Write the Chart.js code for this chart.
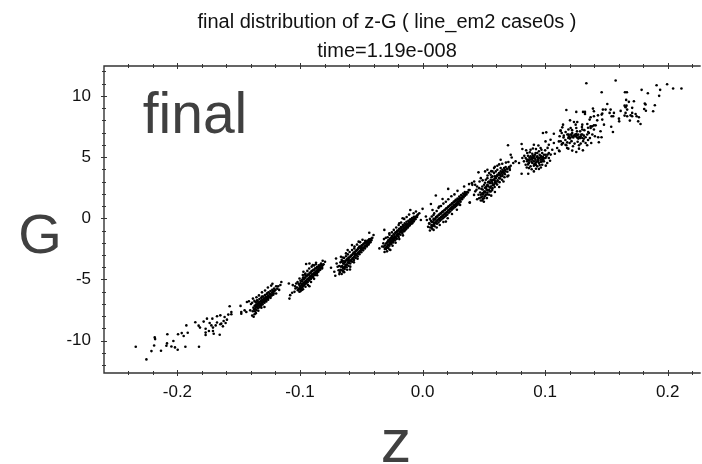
<!DOCTYPE html>
<html>
<head>
<meta charset="utf-8">
<title>final distribution of z-G</title>
<script src="https://cdn.jsdelivr.net/npm/chart.js@4/dist/chart.umd.min.js"></script>
<style>
html, body { margin: 0; padding: 0; background: #fff; }
#wrap { width: 702px; height: 464px; }
</style>
</head>
<body>
<div id="wrap"><canvas id="my-chart" width="702" height="464"></canvas></div>
<script>
const titleLines = ["final distribution of z-G ( line_em2 case0s )", "time=1.19e-008"];
const xTickLabels = [-0.2, -0.1, 0.0, 0.1, 0.2];
const yTickLabels = [-10, -5, 0, 5, 10];

// values, one list per bunch, [z, G]
const tailPoints = [
    [-.2340,-10.49],[-.2253,-11.53],[-.2212,-10.85],[-.2190,-10.39],[-.2185,-9.73],[-.2182,-9.87],[-.2134,-10.82],
    [-.2090,-10.41],[-.2085,-10.22],[-.2082,-9.48],[-.2049,-10.47],[-.2033,-10.03],[-.2020,-10.55],[-.1998,-10.74],
    [-.1995,-9.48],[-.1965,-9.38],[-.1949,-9.62],[-.1935,-10.49],[-.1927,-8.75],[-.1916,-9.35],[-.1824,-10.49],
    [-.1854,-8.50],[-.1827,-8.77],[-.1816,-8.93],[-.1786,-8.44],[-.1770,-9.02],[-.1770,-9.34],[-.1770,-9.54],
    [-.1759,-8.20],[-.1743,-9.21],[-.1737,-8.56],[-.1723,-8.75],[-.1715,-8.20],[-.1710,-8.93],[-.1710,-9.21],
    [-.1704,-9.43],[-.1688,-8.75],[-.1677,-8.52],[-.1677,-8.01],[-.1655,-9.51],[-.1650,-8.66],[-.1650,-7.93],
    [-.1642,-8.61],[-.1629,-8.83],[-.1623,-8.39],[-.1615,-8.07],[-.1607,-8.56],[-.1596,-8.28],[-.1585,-7.87],
    [-.1574,-7.19],[-.1560,-7.84],[-.1560,-7.66],[-.1485,-7.16],[-.1479,-7.66],[-.1479,-7.79],[-.1452,-7.52],
    [-.1438,-7.66],[-.1433,-6.84],[-.1417,-6.78],[-.1406,-7.52],[-.1384,-6.56],[-.1371,-7.84]
];
const clusterA = [
    [-.1385,-7.6],[-.1380,-7.3],[-.1375,-7.45],[-.1370,-7.15],[-.1368,-7.6],[-.1362,-7.3],[-.1358,-7.05],[-.1355,-7.5],
    [-.1350,-7.2],[-.1345,-6.95],[-.1342,-7.35],[-.1338,-7.1],[-.1332,-6.85],[-.1330,-7.25],[-.1325,-7.0],[-.1320,-6.75],
    [-.1318,-7.15],[-.1312,-6.9],[-.1308,-6.65],[-.1305,-7.05],[-.1300,-6.8],[-.1295,-6.55],[-.1290,-6.9],[-.1285,-6.7],
    [-.1280,-6.45],[-.1275,-6.8],[-.1270,-6.55],[-.1262,-6.35],[-.1260,-6.65],[-.1252,-6.45],[-.1245,-6.2],[-.1240,-6.5],
    [-.1232,-6.3],[-.1225,-6.05],[-.1218,-6.25],[-.1210,-5.95],[-.1200,-5.85],[-.1195,-6.15],[-.1185,-5.75],[-.1178,-5.55],
    [-.1170,-5.85],[-.1160,-5.45],[-.1152,-5.2],[-.1195,-5.55],[-.1265,-6.1],[-.1310,-6.4],[-.1350,-6.7],[-.1290,-7.25],
    [-.1365,-7.4],[-.1363,-7.15],[-.1361,-6.85],[-.1350,-7.25],[-.1348,-7.03],[-.1346,-6.75],[-.1335,-7.15],[-.1333,-6.92],
    [-.1331,-6.6],[-.1320,-7.02],[-.1318,-6.8],[-.1316,-6.5],[-.1305,-6.9],[-.1303,-6.68],[-.1301,-6.4],[-.1290,-6.78],
    [-.1288,-6.56],[-.1286,-6.28],[-.1275,-6.65],[-.1273,-6.44],[-.1271,-6.18],[-.1260,-6.52],[-.1258,-6.32],[-.1256,-6.05],
    [-.1245,-6.4],[-.1243,-6.2],[-.1241,-5.95],[-.1230,-6.28],[-.1228,-6.08],[-.1226,-5.85],[-.1215,-6.15],[-.1213,-5.97],[-.1211,-5.75],
    [-.1400,-7.0],[-.1390,-6.9],[-.1372,-6.75],[-.1355,-6.45],[-.1335,-6.3],[-.1310,-6.05],[-.1285,-5.9],[-.1262,-5.65],
    [-.1235,-5.5],[-.1225,-5.35],[-.1390,-7.95],[-.1378,-8.05],[-.1360,-7.75],[-.1340,-7.55],[-.1315,-7.3]
];
const clusterB = [
    [-.1091,-5.33],[-.1086,-6.56],[-.1080,-6.28],[-.1064,-6.09],[-.1045,-6.01],[-.1059,-5.46],[-.1037,-5.74],[-.1031,-5.33],
    [-.1018,-5.87],[-.1004,-4.92],[-.0972,-4.37],[-.0950,-3.74],[-.0923,-3.69],[-.0977,-4.64],[-.0956,-4.51],[-.0896,-3.83],
    [-.0869,-3.63],[-.0815,-3.47],[-.0796,-3.55],[-.0842,-3.96],[-.0828,-3.69],[-.0923,-5.55],
    [-.1010,-5.75],[-.1005,-5.45],[-.1000,-5.6],[-.0995,-5.3],[-.0992,-5.7],[-.0985,-5.45],[-.0982,-5.15],[-.0978,-5.6],
    [-.0972,-5.3],[-.0968,-5.0],[-.0965,-5.45],[-.0958,-5.2],[-.0955,-4.85],[-.0950,-5.3],[-.0945,-5.05],[-.0942,-4.7],
    [-.0938,-5.2],[-.0932,-4.9],[-.0928,-4.6],[-.0925,-5.05],[-.0918,-4.75],[-.0912,-4.45],[-.0910,-4.9],[-.0905,-4.6],
    [-.0898,-4.3],[-.0895,-4.75],[-.0888,-4.5],[-.0882,-4.2],[-.0878,-4.6],[-.0872,-4.35],[-.0865,-4.1],[-.0860,-4.45],
    [-.0855,-4.2],[-.0848,-3.95],[-.0842,-4.25],[-.0835,-4.05],[-.0828,-3.85],[-.0820,-4.1],[-.0812,-3.8],
    [-.1000,-5.8],[-.0998,-5.55],[-.0996,-5.1],[-.0985,-5.65],[-.0983,-5.4],[-.0981,-5.0],[-.0970,-5.5],[-.0968,-5.27],
    [-.0966,-4.85],[-.0955,-5.35],[-.0953,-5.12],[-.0951,-4.7],[-.0940,-5.22],[-.0938,-4.98],[-.0936,-4.6],[-.0925,-5.08],
    [-.0923,-4.85],[-.0921,-4.45],[-.0910,-4.95],[-.0908,-4.72],[-.0906,-4.32],[-.0895,-4.82],[-.0893,-4.58],[-.0891,-4.2],
    [-.0880,-4.66],[-.0878,-4.44],[-.0876,-4.08],[-.0865,-4.5],[-.0863,-4.3],[-.0861,-3.98],[-.0850,-4.36],[-.0848,-4.15],
    [-.0846,-3.85],[-.0835,-4.2],[-.0833,-4.02],[-.0831,-3.78],[-.0820,-4.02],[-.0818,-3.88],[-.0808,-3.75],
    [-.1040,-5.55],[-.1025,-5.65],[-.1020,-5.2],[-.1012,-5.35],[-.1005,-6.0],[-.0995,-5.95],[-.0985,-5.85],[-.0975,-4.85],
    [-.0960,-4.6],[-.0940,-4.3],[-.0925,-4.1],[-.0905,-3.95],[-.0885,-3.85],[-.0870,-3.75],[-.0975,-5.8],[-.0955,-5.6],
    [-.0935,-5.45],[-.0910,-5.2],[-.0885,-4.95],[-.0860,-4.65]
];
const clusterC = [
    [-.0747,-4.04],[-.0712,-4.70],[-.0706,-3.28],[-.0701,-3.69],[-.0685,-4.24],[-.0679,-4.56],[-.0666,-3.14],[-.0658,-3.55],
    [-.0647,-4.37],[-.0611,-2.60],[-.0592,-4.18],[-.0576,-2.19],[-.0522,-1.91],[-.0435,-1.18],[-.0400,-1.37],[-.0468,-1.83],
    [-.0625,-2.87],[-.0557,-2.46],[-.0517,-2.32],[-.0693,-3.96],[-.0720,-4.37],
    [-.0670,-4.2],[-.0665,-3.95],[-.0660,-4.25],[-.0655,-3.9],[-.0650,-4.05],[-.0645,-3.7],[-.0640,-4.0],[-.0635,-3.6],
    [-.0630,-3.8],[-.0625,-3.45],[-.0620,-3.8],[-.0615,-3.4],[-.0610,-3.6],[-.0605,-3.25],[-.0600,-3.6],[-.0595,-3.2],
    [-.0590,-3.45],[-.0585,-3.05],[-.0580,-3.4],[-.0575,-3.0],[-.0570,-3.25],[-.0565,-2.85],[-.0560,-3.2],[-.0555,-2.8],
    [-.0550,-3.05],[-.0545,-2.65],[-.0540,-2.95],[-.0535,-2.6],[-.0530,-2.85],[-.0525,-2.45],[-.0520,-2.75],[-.0515,-2.4],
    [-.0510,-2.65],[-.0505,-2.3],[-.0500,-2.55],[-.0495,-2.25],[-.0490,-2.45],[-.0485,-2.15],[-.0480,-2.4],[-.0475,-2.05],
    [-.0470,-2.3],[-.0465,-2.0],[-.0460,-2.2],[-.0455,-1.95],[-.0450,-2.15],[-.0445,-1.85],[-.0440,-2.05],[-.0435,-1.8],
    [-.0430,-1.95],[-.0425,-1.7],[-.0418,-1.8],[-.0410,-1.6],[-.0650,-3.5],[-.0602,-3.42],[-.0552,-2.92],[-.0502,-2.42],
    [-.0650,-4.3],[-.0648,-4.1],[-.0646,-3.7],[-.0635,-4.15],[-.0633,-3.95],[-.0631,-3.5],[-.0620,-4.0],[-.0618,-3.78],
    [-.0616,-3.35],[-.0605,-3.88],[-.0603,-3.65],[-.0601,-3.2],[-.0590,-3.7],[-.0588,-3.47],[-.0586,-3.1],[-.0575,-3.55],
    [-.0573,-3.32],[-.0571,-2.95],[-.0560,-3.4],[-.0558,-3.17],[-.0556,-2.78],[-.0545,-3.25],[-.0543,-3.02],[-.0541,-2.65],
    [-.0530,-3.1],[-.0528,-2.87],[-.0526,-2.5],[-.0515,-2.93],[-.0513,-2.72],[-.0511,-2.35],[-.0500,-2.78],[-.0498,-2.57],
    [-.0496,-2.2],[-.0485,-2.62],[-.0483,-2.42],[-.0481,-2.08],[-.0470,-2.46],[-.0468,-2.26],[-.0466,-1.95],[-.0455,-2.3],
    [-.0453,-2.12],[-.0451,-1.85],[-.0440,-2.15],[-.0438,-1.97],[-.0436,-1.72],[-.0425,-1.95],[-.0423,-1.8],[-.0415,-1.65],
    [-.0680,-3.9],[-.0675,-4.4],[-.0670,-3.6],[-.0660,-3.4],[-.0650,-3.2],[-.0640,-3.25],[-.0625,-3.1],[-.0610,-2.95],
    [-.0595,-2.75],[-.0575,-2.6],[-.0555,-2.3],[-.0535,-2.15],[-.0510,-1.95],[-.0490,-1.75],[-.0660,-4.55],[-.0640,-4.4],
    [-.0615,-4.2],[-.0590,-3.95],[-.0560,-3.6],[-.0530,-3.3]
];
const clusterD = [
    [-.0352,-2.46],[-.0312,-.95],[-.0271,-1.23],[-.0100,.68],[-.0190,-.41],[-.0163,.0],[-.0054,.55],[.0,.77],[-.0027,.41],
    [-.0073,.41],[-.0317,-2.32],[-.0298,-2.51],[-.0263,-2.59],
    [-.0320,-2.05],[-.0308,-2.5],[-.0305,-2.2],[-.0300,-2.4],[-.0296,-2.05],[-.0292,-2.35],[-.0288,-1.95],[-.0284,-2.2],
    [-.0280,-2.4],[-.0276,-1.9],[-.0272,-2.15],[-.0268,-1.75],[-.0264,-2.05],[-.0260,-1.85],[-.0256,-1.6],[-.0252,-1.95],
    [-.0248,-1.7],[-.0244,-1.5],[-.0240,-1.85],[-.0236,-1.6],[-.0232,-1.35],[-.0228,-1.7],[-.0224,-1.5],[-.0220,-1.2],
    [-.0216,-1.6],[-.0212,-1.35],[-.0208,-1.1],[-.0204,-1.4],[-.0200,-1.25],[-.0196,-1.0],[-.0192,-1.3],[-.0188,-1.1],
    [-.0184,-.85],[-.0180,-1.15],[-.0176,-1.05],[-.0172,-.85],[-.0168,-1.15],[-.0164,-.95],[-.0160,-.7],[-.0156,-1.0],
    [-.0152,-.85],[-.0148,-.6],[-.0144,-.95],[-.0140,-.75],[-.0136,-.5],[-.0132,-.8],[-.0128,-.65],[-.0124,-.45],
    [-.0120,-.75],[-.0116,-.55],[-.0112,-.3],[-.0108,-.6],[-.0104,-.45],[-.0100,-.25],[-.0096,-.45],[-.0092,-.3],
    [-.0088,-.1],[-.0084,-.4],[-.0080,-.2],[-.0076,-.05],[-.0072,-.25],[-.0068,-.1],[-.0064,.1],[-.0058,-.05],
    [-.0052,.15],[-.0045,.1],[-.0038,.3],
    [-.0285,-2.4],[-.0283,-2.15],[-.0280,-1.8],[-.0270,-2.25],[-.0268,-2.0],[-.0266,-1.65],[-.0255,-2.1],[-.0253,-1.85],
    [-.0251,-1.45],[-.0240,-1.98],[-.0238,-1.72],[-.0236,-1.3],[-.0225,-1.82],[-.0223,-1.58],[-.0221,-1.15],[-.0210,-1.68],
    [-.0208,-1.42],[-.0206,-1.0],[-.0195,-1.52],[-.0193,-1.28],[-.0191,-.85],[-.0180,-1.35],[-.0178,-1.1],[-.0176,-.72],
    [-.0165,-1.2],[-.0163,-.95],[-.0161,-.55],[-.0150,-1.05],[-.0148,-.8],[-.0146,-.42],[-.0135,-.9],[-.0133,-.65],
    [-.0131,-.28],[-.0120,-.72],[-.0118,-.5],[-.0116,-.2],[-.0105,-.57],[-.0103,-.35],[-.0101,-.08],[-.0090,-.42],
    [-.0088,-.22],[-.0086,.02],[-.0075,-.25],[-.0073,-.07],[-.0071,.12],[-.0060,-.08],[-.0058,.08],[-.0045,.22],
    [-.0330,-2.3],[-.0315,-1.7],[-.0300,-1.6],[-.0285,-1.55],[-.0270,-1.35],[-.0250,-1.15],[-.0235,-.95],[-.0215,-.75],
    [-.0195,-.55],[-.0175,-.35],[-.0150,-.05],[-.0130,.1],[-.0110,.3],[-.0310,-2.75],[-.0290,-2.7],[-.0270,-2.55],
    [-.0245,-2.25],[-.0220,-2.0],[-.0190,-1.7],[-.0160,-1.4]
];
const clusterE = [
    [-.0014,-.14],[.0027,.14],[.0068,1.17],[.0108,1.86],[.0209,2.40],[.0306,1.09],[.0385,1.28],[.0190,-.27],[.0054,-.41],
    [.0035,-.14],[.0073,-.76],[.0089,.27],[.0081,.68],[.0379,2.79],[.0406,2.73],[.0339,2.59],[.0420,1.91],[.0285,2.24],
    [.0163,1.58],[.0136,.96],
    [.0055,-.45],[.0062,-.75],[.0068,-.2],[.0072,-.55],[.0078,-.85],[.0082,-.3],[.0086,-.6],[.0090,-.05],[.0094,-.35],
    [.0098,-.65],[.0102,-.1],[.0106,-.4],[.0110,.1],[.0114,-.2],[.0118,-.45],[.0122,.2],[.0126,-.1],[.0130,-.35],
    [.0134,.3],[.0138,0],[.0142,-.2],[.0146,.4],[.0150,.1],[.0154,-.1],[.0158,.5],[.0162,.2],[.0166,0],[.0170,.6],
    [.0174,.3],[.0178,.1],[.0182,.7],[.0186,.4],[.0190,.2],[.0194,.8],[.0198,.5],[.0202,.3],[.0206,.9],[.0210,.65],
    [.0214,.45],[.0218,1.0],[.0222,.75],[.0226,.55],[.0230,1.1],[.0234,.85],[.0238,.7],[.0242,1.2],[.0246,.95],[.0250,.8],
    [.0254,1.3],[.0258,1.05],[.0262,.9],[.0266,1.4],[.0270,1.15],[.0274,1.0],[.0278,1.45],[.0282,1.25],[.0286,1.1],
    [.0290,1.55],[.0294,1.35],[.0298,1.2],[.0302,1.65],[.0306,1.45],[.0310,1.35],[.0316,1.7],[.0322,1.55],[.0328,1.8],
    [.0334,1.7],[.0340,1.95],[.0346,1.85],[.0352,2.05],[.0358,1.95],[.0364,2.15],[.0370,2.1],[.0376,2.3],[.0384,2.3],
    [.0075,-.3],[.0077,-.62],[.0090,-.15],[.0092,-.48],[.0105,0],[.0107,-.33],[.0120,.13],[.0122,-.2],[.0135,.27],[.0137,-.05],
    [.0150,.4],[.0152,.08],[.0165,.54],[.0167,.22],[.0180,.68],[.0182,.36],[.0195,.82],[.0197,.5],[.0210,.96],[.0212,.64],
    [.0225,1.09],[.0227,.77],[.0240,1.23],[.0242,.91],[.0255,1.37],[.0257,1.05],[.0270,1.5],[.0272,1.2],[.0285,1.62],[.0287,1.35],
    [.0300,1.78],[.0302,1.48],[.0315,1.9],[.0317,1.62],[.0330,2.02],[.0332,1.76],[.0345,2.15],[.0347,1.92],
    [.0045,-.7],[.0060,-1.0],[.0060,-.05],[.0075,.15],[.0095,.4],[.0115,.6],[.0130,.85],[.0150,1.0],[.0170,1.2],[.0190,1.35],
    [.0210,1.55],[.0235,1.8],[.0260,1.95],[.0090,-.95],[.0115,-.75],[.0140,-.55],[.0170,-.3],[.0205,0],[.0240,.35],[.0280,.7]
];
const clusterF = [
    [.0385,1.29],[.0402,2.87],[.0429,2.73],[.0456,3.75],[.0461,2.46],[.0510,3.83],[.0529,3.96],[.0421,3.01],[.0475,3.28],
    [.0440,2.33],[.0456,1.92],[.0475,1.45],[.0488,1.78],
    [.0461,1.64],[.0475,1.92],[.0488,2.05],[.0502,2.19],[.0516,1.92],[.0516,2.46],[.0529,2.11],[.0529,2.74],[.0543,2.33],
    [.0543,3.01],[.0556,2.60],[.0556,3.15],[.0570,2.46],[.0570,2.87],[.0570,3.42],[.0583,2.74],[.0583,3.15],[.0583,3.69],
    [.0597,2.87],[.0597,3.28],[.0597,3.83],[.0610,3.01],[.0610,3.55],[.0610,3.96],[.0624,3.28],[.0624,3.69],[.0637,3.42],
    [.0637,3.83],[.0637,4.10],[.0651,3.55],[.0651,3.96],[.0665,3.69],[.0665,4.10],[.0678,3.83],[.0678,4.18],[.0692,4.02],
    [.0705,4.18],[.0719,4.29],[.0692,3.42],[.0502,2.74],[.0488,2.60],[.0516,3.15],[.0529,3.28],[.0543,3.69],[.0556,3.55],
    [.0570,3.83],[.0583,4.10],[.0610,4.29],[.0556,2.19],[.0543,1.92],[.0502,1.64],[.0488,1.45],
    [.0537,2.60],[.0550,2.87],[.0563,3.01],[.0577,3.15],[.0590,3.42],[.0603,3.42],[.0617,3.55],[.0630,3.55],[.0644,3.69],
    [.0658,3.83],[.0671,3.96],[.0523,2.33],[.0510,2.19],[.0495,2.05],[.0520,2.60],[.0535,2.95],[.0562,3.35],[.0590,3.05],
    [.0470,2.1],[.0475,1.7],[.0490,2.35],[.0495,1.95],[.0492,1.6],[.0510,2.5],[.0512,2.1],[.0508,1.8],[.0530,2.7],[.0532,2.3],
    [.0528,1.95],[.0550,2.9],[.0552,2.5],[.0548,2.2],[.0570,3.1],[.0572,2.7],[.0568,2.3],[.0590,3.25],[.0592,2.9],[.0588,2.55],
    [.0610,3.45],[.0612,3.1],[.0608,2.75],[.0630,3.6],[.0632,3.25],[.0628,2.95],[.0650,3.75],[.0652,3.45],[.0648,3.15],
    [.0670,3.9],[.0672,3.6],[.0668,3.35],[.0690,4.05],[.0692,3.8],[.0710,4.1],[.0712,3.95],
    [.0430,2.2],[.0445,1.55],[.0445,2.6],[.0465,3.0],[.0480,2.4],[.0490,3.1],[.0510,2.9],[.0530,3.5],[.0560,3.85],[.0590,4.2],
    [.0625,4.4],[.0650,4.45],[.0680,4.55],[.0700,4.6],[.0500,1.35],[.0525,1.65],[.0560,1.85],[.0590,2.15],[.0625,2.55],
    [.0660,3.0],[.0700,3.5]
];
const clusterG = [
    [.0697,5.96],[.0808,6.07],[.0814,5.66],[.0719,5.19],[.0727,4.97],[.0637,4.78],[.0759,4.65],[.0787,4.51],[.0740,4.51],
    [.0808,3.64],[.0862,3.64],[.0982,6.97],[.1009,7.02],[.1071,6.91],[.1125,7.16],[.1152,6.75],[.1044,6.42],[.1003,6.28],
    [.0908,6.01],[.0963,5.74],[.1030,6.01],[.1071,6.15],[.1112,6.28],[.1139,6.09],[.1166,6.01],[.1179,5.74],[.1098,5.74],
    [.1058,5.60],[.1117,5.47],[.1079,5.27],[.1030,4.92],[.0990,4.65],[.1017,4.51],[.0976,4.37],[.0949,4.02],[.0908,3.83],
    [.0868,4.10],[.0841,4.37],[.0827,4.65],[.0814,4.92],[.0854,5.33],[.0881,5.60],[.0922,5.33],[.0949,5.47],[.0976,5.33],
    [.1003,5.19],[.0841,4.92],[.0862,4.78],[.0881,5.06],[.0895,4.78],[.0908,5.06],[.0922,4.78],[.0936,5.06],[.0949,4.92],
    [.0963,5.11],[.0976,4.92],[.0990,5.19],[.1003,4.92],[.0895,4.51],[.0922,4.51],[.0949,4.51],[.0868,4.51],[.0881,4.24],
    [.0908,4.29],[.0936,4.24],[.0854,4.65],[.0895,5.27],[.0936,5.33],[.0963,4.78],[.0976,4.65],[.0908,4.65],[.0936,4.65],
    [.0889,4.92],[.0917,5.19],[.0955,5.19],[.0990,4.92],[.1030,5.33],
    [.0850,4.80],[.0872,4.95],[.0888,4.62],[.0900,5.12],[.0915,4.88],[.0928,4.6],[.0942,4.85],[.0958,4.95],[.0970,5.05],
    [.0982,5.0],[.0880,4.8],[.0912,4.42],[.0930,5.0],[.0945,4.7],[.0965,4.6],[.0985,4.8],[.1010,5.05],[.1020,5.2],
    [.0860,4.4],[.0895,4.95],[.0925,4.35],[.0955,4.35],
    [.0830,5.1],[.0845,5.55],[.0860,5.1],[.0875,5.4],[.0900,5.7],[.0925,5.65],[.0945,5.95],[.0970,5.6],[.1000,5.55],[.1020,5.75],
    [.1045,5.2],[.1040,4.7],[.1005,4.3],[.0965,4.15],[.0925,4.05],[.0890,4.0],[.0850,4.15],[.0870,4.7],[.0905,4.95],[.0940,4.95],[.0975,4.8]
];
const clusterH = [
    [.1336,11.03],[.1575,11.25],[.1461,10.30],[.1651,10.30],[.1667,10.30],[.1787,10.49],[.1838,10.21],[.1909,10.87],
    [.1938,10.49],[.1930,10.0],[.1995,10.95],[.2044,10.60],[.2112,10.60],[.1507,9.34],[.1661,9.67],[.1683,9.51],[.1724,9.56],
    [.1648,9.20],[.1664,9.20],[.1656,9.07],[.1813,9.37],[.1819,9.29],[.1895,9.23],[.1808,8.93],[.1822,8.79],[.1881,8.74],
    [.1710,9.02],[.1669,8.88],[.1616,8.77],[.1173,8.85],[.1254,8.69],[.1309,8.69],[.1325,8.69],[.1325,8.52],[.1390,8.96],
    [.1398,8.74],[.1471,8.88],[.1493,8.88],[.1534,8.88],[.1431,8.41],[.1461,8.47],[.1466,8.55],[.1526,8.61],[.1561,8.61],
    [.1542,8.33],[.1555,8.33],[.1656,8.61],[.1648,8.39],[.1669,8.33],[.1697,8.41],[.1710,8.61],[.1710,8.33],[.1738,8.52],
    [.1746,8.33],[.1765,8.25],[.1602,8.14],[.1604,7.92],[.1691,7.98],[.1759,7.92],[.1778,7.70],[.1539,7.48],[.1553,7.05],
    [.1371,8.25],[.1398,8.33],[.1363,8.06],[.1425,8.0],[.1466,8.06],[.1480,7.65],[.1203,8.0],[.1235,7.87],[.1262,7.87],
    [.1249,7.65],[.1146,7.65],[.1140,7.43],[.1303,7.65],[.1344,7.70],[.1371,7.51],[.1384,7.51],[.1398,7.59],[.1412,7.59],
    [.1181,6.84],[.1194,6.70],[.1208,6.84],[.1221,6.65],[.1235,6.75],[.1249,6.70],[.1262,6.78],[.1276,6.62],[.1289,6.70],
    [.1303,6.56],[.1316,6.75],[.1330,6.62],[.1343,6.84],[.1357,6.97],[.1270,6.51],[.1221,6.97],[.1189,6.56],[.1202,6.51],
    [.1303,6.84],[.1254,6.89],[.1127,7.16],[.1135,6.97],[.1118,6.70],[.1127,6.29],[.1146,6.15],[.1135,6.02],[.1173,5.96],
    [.1189,5.69],[.1221,5.53],[.1254,5.42],[.1276,5.69],[.1308,5.55],[.1276,5.96],[.1227,5.88],[.1343,5.96],[.1376,6.15],
    [.1438,6.21],[.1406,6.70],[.1433,6.62],[.1460,6.62],[.1452,7.11],[.1398,7.25],[.1371,7.38],[.1351,7.05],[.1303,7.25],
    [.1254,7.38],[.1208,7.38],[.1167,7.05],[.1113,5.53],
    [.1190,6.85],[.1205,6.6],[.1215,6.8],[.1230,6.6],[.1245,6.85],[.1260,6.6],[.1270,6.85],[.1285,6.55],[.1295,6.85],[.1315,6.5],
    [.1150,6.6],[.1165,6.4],[.1180,6.2],[.1200,6.15],[.1215,6.3],[.1240,6.1],[.1265,6.25],[.1290,6.1],[.1310,6.3],[.1330,6.15],
    [.1350,6.4],[.1365,6.55],[.1385,6.85],[.1260,7.1],[.1285,7.1],[.1320,7.2],[.1350,7.4],[.1300,7.45],[.1220,7.2],[.1190,7.25]
];

const allPoints = [].concat(tailPoints, clusterA, clusterB, clusterC, clusterD, clusterE, clusterF, clusterG, clusterH)
    .map(function(p) { return {x: p[0], y: p[1]}; });

const frameColor = "#333333";
const textFont = "'Liberation Sans', Arial, sans-serif";

function isMultiple(value, step) {
    return Math.abs(value / step - Math.round(value / step)) < 1e-6;
}

// frame has no right side, ticks cross the lines
const framePlugin = {
    id: "frame",
    afterDatasetsDraw(chart) {
        const ctx = chart.ctx;
        const a = chart.chartArea;
        ctx.save();
        ctx.strokeStyle = frameColor;
        ctx.lineWidth = 1.4;
        ctx.beginPath();
        ctx.moveTo(a.right, a.top);
        ctx.lineTo(a.left, a.top);
        ctx.lineTo(a.left, a.bottom);
        ctx.lineTo(a.right, a.bottom);
        ctx.stroke();
        ctx.lineWidth = 1;
        ctx.beginPath();
        chart.scales.x.ticks.forEach(function(t) {
            const px = Math.round(chart.scales.x.getPixelForValue(t.value)) + 0.5;
            const len = isMultiple(t.value, 0.1) ? 3 : 2;
            ctx.moveTo(px, a.top - len); ctx.lineTo(px, a.top + len);
            ctx.moveTo(px, a.bottom - len); ctx.lineTo(px, a.bottom + len);
        });
        chart.scales.y.ticks.forEach(function(t) {
            const py = Math.round(chart.scales.y.getPixelForValue(t.value)) + 0.5;
            const len = isMultiple(t.value, 5) ? 3 : 2;
            ctx.moveTo(a.left - len, py); ctx.lineTo(a.left + len, py);
        });
        ctx.stroke();
        ctx.restore();
    },
    afterDraw(chart) {
        const ctx = chart.ctx;
        ctx.save();
        ctx.textAlign = "center";
        ctx.textBaseline = "alphabetic";
        ctx.fillStyle = "#111111";
        ctx.font = "20px " + textFont;
        ctx.fillText(titleLines[0], 387, 28);
        ctx.fillText(titleLines[1], 387, 57);
        ctx.fillStyle = "#404040";
        ctx.font = "57px " + textFont;
        ctx.fillText("final", 195, 133);
        ctx.font = "56px " + textFont;
        ctx.fillText("G", 40, 253);
        ctx.font = "61px " + textFont;
        ctx.fillText("z", 396, 462);
        ctx.restore();
    }
};

new Chart(document.getElementById("my-chart").getContext("2d"), {
    type: "scatter",
    data: {
        datasets: [{
            label: "z-G",
            data: allPoints,
            backgroundColor: "#000000",
            borderWidth: 0,
            pointStyle: "circle",
            pointRadius: 1.3,
            pointHoverRadius: 1.3
        }]
    },
    options: {
        responsive: false,
        animation: false,
        layout: { padding: { top: 66, right: 0, bottom: 0, left: 0 } },
        plugins: { legend: { display: false }, tooltip: { enabled: false }, title: { display: false } },
        scales: {
            x: {
                type: "linear",
                min: -0.2599,
                max: 0.2269,
                afterBuildTicks(scale) {
                    const ticks = [];
                    for (let i = -12; i <= 11; i++) {
                        ticks.push({ value: i * 0.02 });
                    }
                    scale.ticks = ticks;
                },
                afterFit(scale) { scale.height = 91; },
                grid: { display: false, drawTicks: false },
                border: { display: false },
                ticks: {
                    autoSkip: false,
                    maxRotation: 0,
                    padding: 9,
                    color: "#111111",
                    font: { family: textFont, size: 17 },
                    callback(value) {
                        const match = xTickLabels.find(function(v) { return Math.abs(v - value) < 1e-6; });
                        return match === undefined ? "" : match.toFixed(1);
                    }
                }
            },
            y: {
                type: "linear",
                min: -12.64,
                max: 12.44,
                afterBuildTicks(scale) {
                    const ticks = [];
                    for (let i = -12; i <= 12; i++) {
                        ticks.push({ value: i });
                    }
                    scale.ticks = ticks;
                },
                afterFit(scale) { scale.width = 104; },
                grid: { display: false, drawTicks: false },
                border: { display: false },
                ticks: {
                    autoSkip: false,
                    padding: 13,
                    color: "#111111",
                    font: { family: textFont, size: 17 },
                    callback(value) {
                        return yTickLabels.includes(value) ? String(value) : "";
                    }
                }
            }
        }
    },
    plugins: [framePlugin]
});
</script>
</body>
</html>
